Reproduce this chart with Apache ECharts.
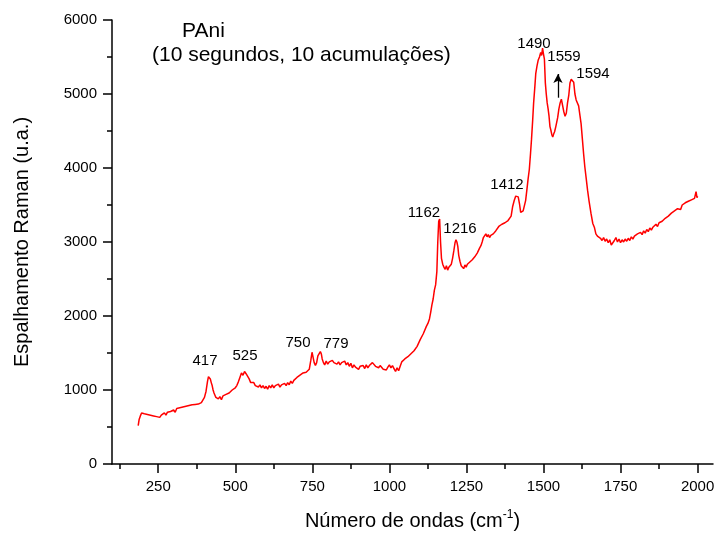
<!DOCTYPE html>
<html>
<head>
<meta charset="utf-8">
<script src="https://cdn.jsdelivr.net/npm/echarts@6/dist/echarts.min.js"></script>
<style>html,body{margin:0;padding:0;background:#fff}#c{width:719px;height:536px}</style>
</head>
<body>
<div id="c"></div>
<script>
const wavenumber = [185,188,192,196,200,205,210,215,220,225,230,235,240,245,250,255,260,265,270,275,280,285,290,295,300,305,310,315,320,325,330,335,340,345,350,355,360,365,370,375,380,385,390,395,400,405,410,413,416,419,422,425,428,431,434,437,440,445,450,455,460,465,470,475,480,485,490,495,500,505,510,515,520,525,530,535,540,545,550,555,560,565,570,575,580,585,590,595,600,605,610,615,620,625,630,635,640,645,650,655,660,665,670,675,680,685,690,695,700,705,710,715,720,725,730,735,740,745,749,752,756,760,764,768,772,776,779,782,786,790,795,800,805,810,815,820,825,830,835,840,845,850,855,860,865,870,875,880,885,890,895,900,905,910,915,920,925,930,935,940,945,950,955,960,965,970,975,980,985,990,995,1000,1005,1010,1015,1020,1025,1030,1035,1040,1045,1050,1055,1060,1065,1070,1075,1080,1085,1090,1095,1100,1105,1110,1115,1120,1125,1130,1134,1138,1142,1146,1150,1154,1157,1160,1163,1166,1169,1173,1177,1181,1185,1189,1193,1197,1201,1205,1209,1213,1216,1219,1222,1225,1229,1233,1237,1241,1245,1249,1253,1257,1261,1265,1269,1273,1277,1281,1285,1289,1293,1297,1301,1305,1309,1313,1317,1321,1325,1329,1333,1337,1341,1345,1350,1355,1360,1365,1370,1375,1380,1385,1390,1395,1400,1405,1410,1414,1418,1422,1426,1430,1434,1438,1442,1446,1450,1454,1458,1461,1465,1468,1472,1475,1479,1483,1487,1491,1494,1497,1500,1503,1506,1509,1512,1515,1518,1521,1524,1527,1530,1533,1536,1540,1543,1546,1550,1554,1558,1562,1566,1570,1574,1578,1582,1586,1590,1594,1598,1602,1606,1610,1614,1618,1622,1626,1630,1634,1638,1643,1648,1654,1660,1665,1670,1675,1680,1685,1690,1695,1700,1705,1710,1715,1720,1725,1730,1735,1740,1745,1750,1755,1760,1765,1770,1775,1780,1785,1790,1795,1800,1805,1810,1815,1820,1825,1830,1835,1840,1845,1850,1855,1860,1865,1870,1875,1880,1885,1890,1895,1900,1905,1910,1915,1920,1925,1930,1935,1940,1945,1950,1955,1960,1965,1970,1975,1980,1985,1990,1995,1998,2000];
const intensity = [520,600,650,690,700,680,705,670,690,660,680,650,670,640,665,630,660,650,690,660,700,680,710,690,730,700,750,730,760,740,770,750,780,760,790,770,800,780,805,790,810,800,830,850,900,980,1120,1180,1190,1150,1100,1060,1000,960,930,900,920,880,910,870,920,900,940,920,960,950,1000,980,1030,1060,1110,1170,1230,1200,1250,1220,1240,1150,1100,1080,1100,1060,1080,1040,1070,1030,1060,1020,1050,1010,1060,1030,1070,1030,1060,1040,1080,1040,1070,1050,1090,1060,1100,1070,1120,1090,1130,1110,1170,1150,1200,1190,1230,1210,1240,1260,1280,1400,1510,1450,1370,1330,1370,1460,1480,1520,1490,1420,1370,1340,1390,1350,1380,1360,1400,1370,1390,1350,1380,1340,1370,1360,1390,1340,1370,1320,1360,1300,1340,1310,1330,1280,1320,1300,1330,1290,1340,1300,1330,1310,1370,1380,1320,1340,1300,1330,1310,1280,1300,1270,1310,1340,1300,1330,1290,1250,1300,1260,1320,1380,1360,1420,1400,1450,1440,1490,1480,1530,1520,1590,1600,1680,1700,1760,1780,1860,1900,1960,2050,2150,2230,2350,2420,2600,3000,3280,3310,3000,2780,2700,2660,2630,2680,2620,2660,2640,2700,2780,2880,2990,3030,3000,2940,2820,2740,2680,2660,2640,2690,2660,2700,2680,2730,2720,2760,2750,2800,2790,2850,2860,2920,2950,3000,3060,3080,3110,3070,3100,3060,3090,3070,3110,3090,3150,3170,3210,3200,3240,3230,3260,3250,3290,3300,3350,3480,3560,3620,3640,3610,3520,3400,3380,3420,3400,3560,3700,3850,3980,4200,4380,4650,4880,5100,5280,5380,5460,5500,5560,5520,5620,5540,5470,5150,5000,4880,4800,4700,4560,4510,4450,4420,4460,4490,4560,4620,4680,4800,4880,4930,4910,4760,4700,4740,4880,4980,5150,5200,5190,5160,5000,4920,4900,4840,4820,4600,4400,4200,4020,3880,3700,3550,3390,3250,3200,3110,3080,3060,3050,3020,3060,3010,3040,2990,3030,2960,2940,3020,3060,3000,3040,2990,3030,3000,3040,3010,3050,3020,3070,3040,3080,3060,3110,3090,3130,3100,3150,3120,3170,3140,3190,3160,3200,3180,3240,3210,3260,3240,3280,3270,3320,3300,3350,3330,3390,3370,3420,3400,3450,3470,3440,3500,3480,3530,3510,3550,3530,3570,3550,3590,3680,3600,3620];
const xLabelTicks = [250,500,750,1000,1250,1500,1750,2000];
const xMinorTicks = [125,375,625,875,1125,1375,1625,1875];
const peakLabels = ['417','525','750','779','1162','1216','1412','1490','1559','1594'];
const arrowWavenumber = 1547;
const arrowFrom = 4950, arrowTo = 5270;

const FONT = "'Liberation Sans', Arial, sans-serif";
const seriesData = wavenumber.map((w, i) => [w, intensity[i]]);
const labelPos = [[205,361],[245,356],[298,343],[336,344],[424,213],[460,229],[507,185],[534,44],[564,57],[593,74]];
const plain = v => String(v);

const chart = echarts.init(document.getElementById('c'), null, {renderer: 'canvas'});
const axisLineStyle = {color: '#000', width: 1.5};
chart.setOption({
  animation: false,
  backgroundColor: '#fff',
  grid: {left: 112, right: 6, top: 20, bottom: 72, containLabel: false},
  xAxis: [{
    type: 'value', min: 100, max: 2050, position: 'bottom',
    axisLine: {show: true, onZero: false, lineStyle: axisLineStyle},
    axisTick: {show: true, length: 9, lineStyle: {color: '#000', width: 1.5}, customValues: xLabelTicks},
    axisLabel: {show: true, fontSize: 15, color: '#000', fontFamily: FONT, margin: 15, customValues: xLabelTicks, formatter: plain},
    splitLine: {show: false},
    name: '{a|Número de ondas (cm}{s|-1}{a|)}', nameLocation: 'middle', nameGap: 45,
    nameTextStyle: {rich: {a: {fontSize: 20, fontFamily: FONT, color: '#000'}, s: {fontSize: 12, fontFamily: FONT, color: '#000', padding: [0,0,12,0]}}}
  }, {
    type: 'value', min: 100, max: 2050, position: 'bottom',
    axisLine: {show: false, onZero: false},
    axisTick: {show: true, length: 5, lineStyle: {color: '#000', width: 1.5}, customValues: xMinorTicks},
    axisLabel: {show: false},
    splitLine: {show: false}
  }],
  yAxis: {
    type: 'value', min: 0, max: 6000, interval: 1000,
    axisLine: {show: true, lineStyle: axisLineStyle},
    axisTick: {show: true, length: 9, lineStyle: {color: '#000', width: 1.5}},
    minorTick: {show: true, splitNumber: 2, length: 5, lineStyle: {color: '#000', width: 1.5}},
    axisLabel: {fontSize: 15, color: '#000', fontFamily: FONT, margin: 15, formatter: plain},
    splitLine: {show: false},
    name: 'Espalhamento Raman (u.a.)', nameLocation: 'middle', nameGap: 80,
    nameTextStyle: {fontSize: 20, fontFamily: FONT, color: '#000'}
  },
  series: [{
    type: 'line', data: seriesData, xAxisIndex: 0, showSymbol: false, symbol: 'none',
    lineStyle: {color: '#ff0000', width: 1.5},
    markLine: {
      silent: true, symbol: ['none', 'arrow'], symbolSize: [7, 9],
      lineStyle: {color: '#000', width: 1.3, type: 'solid'},
      label: {show: false},
      data: [[{coord: [arrowWavenumber, arrowFrom]}, {coord: [arrowWavenumber, arrowTo]}]]
    }
  }],
  graphic: [
    {type: 'text', left: 182, top: 21, style: {text: 'PAni', fontSize: 21, fontFamily: FONT, fill: '#000'}},
    {type: 'text', left: 152, top: 45, style: {text: '(10 segundos, 10 acumulações)', fontSize: 21, fontFamily: FONT, fill: '#000'}}
  ].concat(peakLabels.map((t, i) => ({
    type: 'text', x: labelPos[i][0], y: labelPos[i][1],
    style: {text: t, fontSize: 15, fontFamily: FONT, fill: '#000', align: 'center', verticalAlign: 'middle'}
  })))
});
</script>
</body>
</html>
